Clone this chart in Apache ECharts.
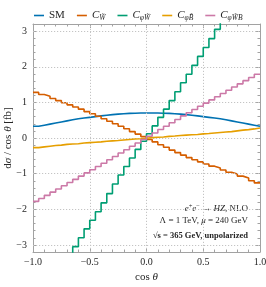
<!DOCTYPE html>
<html>
<head>
<meta charset="utf-8">
<script src="https://cdn.jsdelivr.net/npm/echarts@6/dist/echarts.min.js"></script>
<style>html,body{margin:0;padding:0;background:#fff}#c{width:266px;height:287px}</style>
</head>
<body>
<div id="c"></div>
<script>
// bin edges in cos(theta)
const edges = [-1.0,-0.95,-0.9,-0.85,-0.8,-0.75,-0.7,-0.65,-0.6,-0.55,-0.5,-0.45,-0.4,-0.35,-0.3,-0.25,-0.2,-0.15,-0.1,-0.05,0,0.05,0.1,0.15,0.2,0.25,0.3,0.35,0.4,0.45,0.5,0.55,0.6,0.65,0.7,0.75,0.8,0.85,0.9,0.95,1.0];
const seriesNames = ['SM','CW','CphiW','CphiB','CphiWB'];
const valSM = [0.33,0.36,0.39,0.42,0.45,0.48,0.51,0.54,0.56,0.58,0.60,0.62,0.64,0.655,0.67,0.68,0.69,0.695,0.70,0.70,0.70,0.70,0.695,0.69,0.68,0.67,0.655,0.64,0.62,0.60,0.58,0.56,0.54,0.51,0.48,0.45,0.42,0.39,0.36,0.33];
const valCW = [1.28,1.22,1.17,1.11,1.05,0.99,0.93,0.87,0.81,0.74,0.68,0.61,0.54,0.47,0.40,0.33,0.26,0.18,0.11,0.04,-0.04,-0.11,-0.19,-0.26,-0.34,-0.41,-0.48,-0.55,-0.61,-0.67,-0.73,-0.79,-0.84,-0.90,-0.96,-1.01,-1.07,-1.12,-1.20,-1.26];
const valCphiW = [-4.8,-4.55,-4.3,-4.05,-3.8,-3.55,-3.3,-3.05,-2.80,-2.55,-2.31,-2.07,-1.82,-1.56,-1.29,-1.04,-0.80,-0.56,-0.32,-0.09,0.12,0.34,0.58,0.81,1.05,1.30,1.55,1.79,2.04,2.29,2.54,2.79,3.05,3.3,3.55,3.8,4.05,4.3,4.55,4.8];
const valCphiB = [-0.27,-0.25,-0.23,-0.21,-0.20,-0.18,-0.17,-0.16,-0.14,-0.13,-0.12,-0.11,-0.09,-0.08,-0.07,-0.055,-0.04,-0.03,-0.02,-0.005,0.01,0.02,0.03,0.045,0.055,0.07,0.08,0.09,0.10,0.115,0.125,0.14,0.155,0.17,0.18,0.20,0.22,0.235,0.255,0.28];
const valCphiWB = [-1.78,-1.70,-1.61,-1.52,-1.43,-1.34,-1.25,-1.16,-1.07,-0.98,-0.89,-0.80,-0.71,-0.61,-0.52,-0.42,-0.33,-0.23,-0.14,-0.04,0.05,0.14,0.24,0.33,0.43,0.52,0.62,0.71,0.80,0.89,0.98,1.07,1.16,1.25,1.34,1.43,1.52,1.61,1.70,1.79];
const yTicks = [-3,-2,-1,0,1,2,3];
const xGrid = [-0.5,0.0,0.5];

const colors = ['#0072B2','#D55E00','#009E73','#E69F00','#CC79A7'];
const serif = 'Liberation Serif';
const frame = '#a2a2a2';
const txt = '#262626';

function stepData(vals){
  const d = vals.map((v,i)=>[edges[i], v]);
  d.push([edges[edges.length-1], vals[vals.length-1]]);
  return d;
}
const allVals = [valSM, valCW, valCphiW, valCphiB, valCphiWB];

const legendRich = {
  n:{fontFamily:serif,fontSize:11,color:txt,lineHeight:14},
  c:{fontFamily:serif,fontStyle:'italic',fontSize:11,color:txt,lineHeight:14},
  s:{fontFamily:serif,fontStyle:'italic',fontSize:7.5,color:txt,lineHeight:9,verticalAlign:'bottom'}
};
const legendLabels = {
  SM:'{n|SM}',
  CW:'{c|C}{s|W\u0303}',
  CphiW:'{c|C}{s|\u03c6W\u0303}',
  CphiB:'{c|C}{s|\u03c6B\u0303}',
  CphiWB:'{c|C}{s|\u03c6W\u0303B}'
};

const fmtNum = v => {
  const s = Math.abs(v) < 1e-9 ? '0.0' : v.toFixed(1);
  return s.replace('-', '\u2212');
};

const chart = echarts.init(document.getElementById('c'), null, {renderer:'canvas'});
const gridLines = [];
yTicks.forEach(v=>gridLines.push({yAxis:v}));
xGrid.forEach(v=>gridLines.push({xAxis:v}));

const series = seriesNames.map((nm,i)=>({
  name:nm, type:'line', step:'end', data:stepData(allVals[i]),
  symbol:'none', showSymbol:false, clip:true,
  lineStyle:{color:colors[i], width:1.6}, itemStyle:{color:colors[i]},
  xAxisIndex:0, yAxisIndex:0, z:3+i, animation:false
}));
series.unshift({
  name:'grid', type:'line', data:[], xAxisIndex:0, yAxisIndex:0, silent:true, animation:false,
  markLine:{silent:true, symbol:['none','none'], label:{show:false}, animation:false,
    lineStyle:{color:'#c4c4c4', type:[1.2,1.8], width:1}, data:gridLines}
});

const yBase = {type:'value', min:-3.2, max:3.2, gridIndex:0, splitLine:{show:false}};
const option = {
  animation:false,
  color:colors,
  grid:{left:33, right:6, top:24, bottom:35, containLabel:false, outerBoundsMode:'none'},
  legend:{
    data:seriesNames, top:5, left:29, itemWidth:10, itemHeight:1.6, itemGap:12,
    icon:'rect', formatter:n=>legendLabels[n], textStyle:{rich:legendRich}
  },
  xAxis:[
    {type:'value', min:-1, max:1, interval:0.5, position:'bottom',
     axisLine:{onZero:false, lineStyle:{color:frame,width:1}},
     axisTick:{inside:true,length:4,lineStyle:{color:frame}},
     minorTick:{show:true,splitNumber:5,length:2.5,lineStyle:{color:frame}},
     axisLabel:{formatter:fmtNum, fontFamily:serif, fontSize:10, color:txt, margin:5},
     splitLine:{show:false},
     name:'{t|cos }{i|\u03b8}', nameLocation:'middle', nameGap:20,
     nameTextStyle:{rich:{t:{fontFamily:serif,fontSize:11,color:txt},i:{fontFamily:serif,fontSize:11,fontStyle:'italic',color:txt}}}
    },
    {type:'value', min:-1, max:1, interval:0.5, position:'top',
     axisLine:{onZero:false, lineStyle:{color:frame,width:1}},
     axisTick:{inside:true,length:4,lineStyle:{color:frame}},
     minorTick:{show:true,splitNumber:5,length:2.5,lineStyle:{color:frame}},
     axisLabel:{show:false}, splitLine:{show:false}}
  ],
  yAxis:[
    Object.assign({}, yBase, {position:'left', interval:0.2,
      axisLine:{onZero:false, lineStyle:{color:frame,width:1}},
      axisTick:{inside:true,length:2.5,lineStyle:{color:frame}},
      axisLabel:{show:false},
      name:'{t|d}{i|\u03c3}{t| / cos }{i|\u03b8}{t| [fb]}', nameLocation:'middle', nameGap:19,
      nameTextStyle:{rich:{t:{fontFamily:serif,fontSize:11,color:txt},i:{fontFamily:serif,fontSize:11,fontStyle:'italic',color:txt}}}
    }),
    Object.assign({}, yBase, {position:'left',
      axisLine:{show:false, onZero:false},
      axisTick:{inside:true,length:4,lineStyle:{color:frame},customValues:yTicks},
      axisLabel:{customValues:yTicks, formatter:v=>String(v).replace('-','\u2212'), fontFamily:serif, fontSize:10, color:txt, margin:6}
    }),
    Object.assign({}, yBase, {position:'right', interval:0.2,
      axisLine:{onZero:false, lineStyle:{color:frame,width:1}},
      axisTick:{inside:true,length:2.5,lineStyle:{color:frame}},
      axisLabel:{show:false}}),
    Object.assign({}, yBase, {position:'right',
      axisLine:{show:false, onZero:false},
      axisTick:{inside:true,length:4,lineStyle:{color:frame},customValues:yTicks},
      axisLabel:{show:false}})
  ],
  graphic:[
    {type:'text', right:18, top:203, silent:true, style:{
      text:'{i|e}{p|+}{i|e}{p|\u2212}{t| \u2192 }{i|HZ}{t|, NLO}',
      rich:{t:{fontFamily:serif,fontSize:9,fill:txt,lineHeight:12},
            i:{fontFamily:serif,fontSize:9,fontStyle:'italic',fill:txt,lineHeight:12},
            p:{fontFamily:serif,fontSize:6.5,fill:txt,lineHeight:7,verticalAlign:'top'}}
    }},
    {type:'text', right:18, top:216, silent:true, style:{
      text:'{t|\u039b = 1 TeV, }{i|\u03bc}{t| = 240 GeV}',
      rich:{t:{fontFamily:serif,fontSize:9,fill:txt,lineHeight:12},
            i:{fontFamily:serif,fontSize:9,fontStyle:'italic',fill:txt,lineHeight:12}}
    }},
    {type:'text', right:18, top:231, silent:true, style:{
      text:'\u221as = 365 GeV, unpolarized', fontFamily:serif, fontWeight:'bold', fontSize:8.5, fill:txt
    }}
  ],
  series:series
};
chart.setOption(option);
</script>
</body>
</html>
